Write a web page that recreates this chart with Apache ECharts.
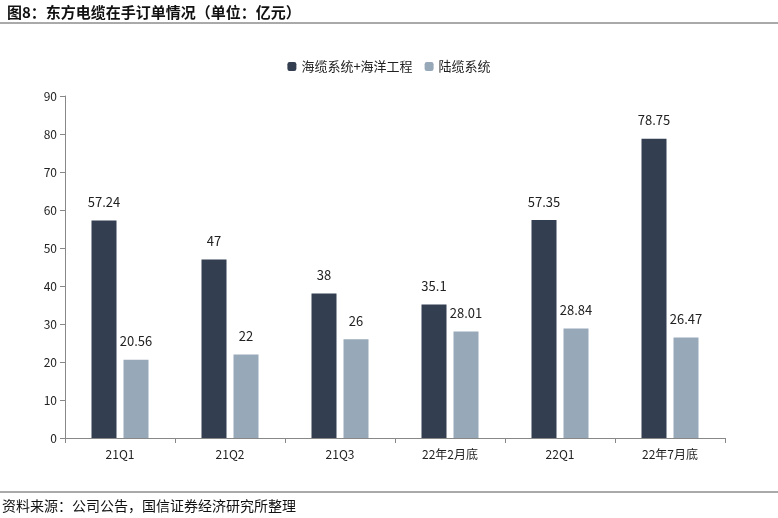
<!DOCTYPE html>
<html><head><meta charset="utf-8">
<script src="https://cdn.jsdelivr.net/npm/echarts@6/dist/echarts.min.js"></script>
<style>body{margin:0}#chart{width:778px;height:518px}</style>
</head><body><div id="chart"></div>
<script>
const categories = ["21Q1", "21Q2", "21Q3", "22年2月底", "22Q1", "22年7月底"];
const marine = [57.24, 47, 38, 35.1, 57.35, 78.75];
const land = [20.56, 22, 26, 28.01, 28.84, 26.47];
const yTicks = { min: 0, max: 90, interval: 10 };

const chart = echarts.init(document.querySelector("#chart"));
const font = "'Noto Sans CJK SC', sans-serif";
const label = { show: true, position: "top", distance: 12, color: "#222", fontSize: 13, fontFamily: font };
chart.setOption({
  textStyle: { fontFamily: font },
  title: {
    text: "图8：东方电缆在手订单情况（单位：亿元）",
    left: 2, top: 0,
    textStyle: { fontSize: 15, fontWeight: "bold", color: "#111" },
  },
  graphic: [
    { type: "line", shape: { x1: 0, y1: 23, x2: 778, y2: 23 }, style: { stroke: "#555", lineWidth: 1 } },
    { type: "line", shape: { x1: 0, y1: 492, x2: 778, y2: 492 }, style: { stroke: "#555", lineWidth: 1 } },
    { type: "text", left: 2, top: 499, style: { text: "资料来源：公司公告，国信证券经济研究所整理", fontSize: 14, fill: "#111", fontFamily: font } },
  ],
  legend: {
    top: 55, left: "center", itemWidth: 9, itemHeight: 9, itemGap: 12,
    textStyle: { fontSize: 13, color: "#222" },
  },
  grid: { left: 65, right: 53, top: 96, bottom: 80 },
  xAxis: {
    type: "category", data: categories,
    axisLine: { lineStyle: { color: "#888" } },
    axisTick: { show: true, alignWithLabel: false, lineStyle: { color: "#888" } },
    axisLabel: { color: "#222", fontSize: 12, margin: 10 },
  },
  yAxis: {
    type: "value", ...yTicks,
    splitLine: { show: false },
    axisLine: { show: true, lineStyle: { color: "#888" } },
    axisTick: { show: true, lineStyle: { color: "#888" } },
    axisLabel: { color: "#222", fontSize: 12 },
  },
  series: [
    { name: "海缆系统+海洋工程", type: "bar", data: marine, barWidth: 25, barGap: "28%", itemStyle: { color: "#333F50" }, label },
    { name: "陆缆系统", type: "bar", data: land, barWidth: 25, itemStyle: { color: "#97A8B9" }, label },
  ],
});
</script></body></html>
